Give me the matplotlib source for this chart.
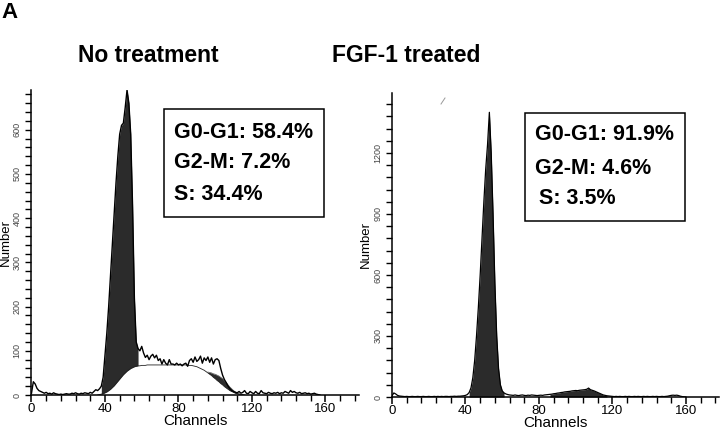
import numpy as np
import matplotlib.pyplot as plt
from matplotlib.patches import Rectangle
from matplotlib.lines import Line2D
from matplotlib.ticker import MultipleLocator

plt.rcParams['font.family'] = ['Liberation Sans', 'DejaVu Sans']

# Raw DNA histograms, one value per channel
raw_left = [4, 30, 25, 15, 10, 8, 6, 4, 6, 3, 4, 2, 5, 3, 2, 1, 2, 1, 2, 3,
            2, 2, 4, 3, 5, 3, 2, 4, 3, 5, 4, 3, 6, 4, 8, 12, 10, 14, 20, 40,
            90, 140, 200, 270, 340, 410, 480, 540, 590, 610, 615, 650, 690, 660, 590, 430, 220, 120, 105, 100,
            110, 95, 85, 90, 80, 88, 92, 84, 90, 78, 82, 70, 80, 72, 68, 80, 70, 70, 68, 72,
            68, 70, 66, 70, 72, 65, 78, 82, 74, 86, 76, 80, 88, 72, 84, 78, 86, 74, 84, 70,
            80, 82, 78, 60, 45, 35, 28, 20, 14, 10, 8, 6, 5, 8, 4, 6, 10, 4, 3, 8,
            5, 3, 8, 4, 3, 10, 5, 4, 3, 6, 4, 3, 5, 4, 6, 3, 5, 4, 8, 6,
            4, 10, 6, 8, 5, 4, 6, 3, 4, 5, 3, 4, 2, 3, 4, 2, 1, 0]

raw_right = [6, 20, 15, 8, 5, 4, 3, 2, 3, 2, 2, 3, 2, 2, 3, 2, 2, 3, 2, 2,
             3, 2, 2, 3, 2, 3, 2, 3, 2, 3, 3, 2, 3, 3, 4, 3, 4, 4, 5, 6,
             8, 12, 22, 45, 95, 180, 300, 440, 600, 780, 960, 1120, 1240, 1400, 1200, 900, 560, 300, 140, 60,
             30, 20, 15, 12, 10, 9, 8, 10, 8, 7, 9, 10, 8, 7, 9, 8, 10, 9, 8, 7,
             8, 9, 8, 10, 11, 12, 13, 14, 16, 17, 19, 20, 22, 23, 25, 26, 27, 28, 30, 31,
             32, 31, 33, 34, 35, 36, 38, 44, 36, 33, 30, 26, 22, 18, 14, 10, 8, 6, 5, 4,
             3, 2, 3, 2, 3, 2, 2, 3, 2, 3, 2, 2, 3, 2, 3, 2, 2, 3, 2, 3,
             2, 2, 3, 2, 3, 2, 2, 3, 2, 3, 4, 6, 8, 9, 8, 9, 7, 4, 2, 1, 0]

# Fitted S-phase component (left panel), channels 36..116
s_start = 36
s_left = [0, 1, 2, 3, 5, 7, 10, 13, 17, 21, 26, 31, 36, 41, 46, 50, 54, 57, 60, 62,
          64, 65, 66, 66, 67, 67, 67, 68, 68, 68, 68, 68, 68, 68, 68, 68, 68, 68, 68, 68,
          68, 68, 68, 68, 68, 68, 68, 68, 68, 67, 67, 67, 66, 65, 64, 62, 60, 58, 56, 53,
          50, 47, 44, 40, 37, 33, 30, 26, 23, 19, 16, 13, 10, 8, 6, 4, 3, 2, 1, 1,
          0]

# Fitted G2-M component (left panel), channels 96..114
g2_start = 96
g2_left = [2, 4, 6, 8, 10, 12, 13, 14, 14, 13, 12, 10, 8, 6, 4, 3, 2, 1, 0]

titles = ['No treatment', 'FGF-1 treated']
stats_left = ['G0-G1: 58.4%', 'G2-M: 7.2%', 'S: 34.4%']
stats_right = ['G0-G1: 91.9%', 'G2-M: 4.6%', 'S: 3.5%']

dark = '#2b2b2b'
W, H = 720, 434

fig = plt.figure(figsize=(7.2, 4.34), dpi=100)


def px_axes(x0, y_top, y_bot, w):
    return fig.add_axes([x0 / W, (H - y_bot) / H, w / W, (y_bot - y_top) / H])


def style_axes(ax, ymax, ymajor, yminor):
    ax.set_xlim(0, 178)
    ax.set_ylim(0, ymax)
    for s in ['top', 'right']:
        ax.spines[s].set_visible(False)
    ax.spines['left'].set_linewidth(1.1)
    ax.spines['bottom'].set_linewidth(1.1)
    ax.xaxis.set_major_locator(MultipleLocator(40))
    ax.xaxis.set_minor_locator(MultipleLocator(8))
    ax.yaxis.set_major_locator(MultipleLocator(ymajor))
    ax.yaxis.set_minor_locator(MultipleLocator(yminor))
    ax.tick_params(axis='x', which='major', length=5, width=1.1, labelsize=9.5, pad=1)
    ax.tick_params(axis='x', which='minor', length=4, width=1.0)
    ax.tick_params(axis='y', which='major', length=4, width=1.0, labelsize=6.5,
                   pad=3, labelcolor='#444444')
    ax.tick_params(axis='y', which='minor', length=4, width=1.0)
    for lab in ax.get_yticklabels():
        lab.set_rotation(90)
        lab.set_va('center')
    ax.set_xlabel('Channels', fontsize=11, labelpad=-1)
    ax.set_ylabel('Number', fontsize=9.5, labelpad=1)


# ---- left panel: no treatment
ax1 = px_axes(31.5, 90, 395, 327)
ch = np.arange(len(raw_left))
s_ch = np.arange(s_start, s_start + len(s_left))
s_arr = np.array(s_left)
raw_l = np.array(raw_left)

# G0-G1 peak fill on top of S-phase
g1_idx = np.arange(38, 59)
ax1.fill_between(g1_idx, s_arr[g1_idx - s_start], raw_l[g1_idx], color=dark, lw=0)
# G2-M fill
g2_ch = np.arange(g2_start, g2_start + len(g2_left))
s_g2 = s_arr[g2_ch - s_start]
ax1.fill_between(g2_ch, s_g2, s_g2 + np.array(g2_left), color=dark, lw=0)
ax1.plot(s_ch, s_arr, color='#222222', lw=0.6)
ax1.plot(g2_ch, s_g2 + np.array(g2_left), color='#555555', lw=0.5)
ax1.plot(ch, raw_l, color='black', lw=1.0)
style_axes(ax1, 690, 100, 20)

# ---- right panel: FGF-1 treated
ax2 = px_axes(392, 93, 397, 327)
ch2 = np.arange(len(raw_right))
raw_r = np.array(raw_right)
ax2.fill_between(ch2[42:62], 0, raw_r[42:62], color=dark, lw=0)
ax2.fill_between(ch2[86:118], 0, raw_r[86:118], color=dark, lw=0)
ax2.plot(ch2, raw_r, color='black', lw=0.9)
style_axes(ax2, 1495, 300, 60)

# titles and panel letter
tfont = dict(fontsize=16.5, fontweight='bold')
fig.text(148 / W, 1 - 56 / H, titles[0], ha='center', va='center', **tfont)
fig.text(406 / W, 1 - 56 / H, titles[1], ha='center', va='center', **tfont)
fig.text(1 / W, 1 - 12 / H, 'A', ha='left', va='center', fontsize=16, fontweight='bold')

# stats boxes
boxes = [(164, 109, 160, 108, 174, [132, 163, 195], stats_left, [0, 0, 0]),
         (525, 113, 160, 108, 535, [135, 168, 198], stats_right, [0, 0, 4])]
for bx, by, bw, bh, tx, tys, lines, dx in boxes:
    fig.patches.append(Rectangle((bx / W, 1 - (by + bh) / H), bw / W, bh / H,
                                 transform=fig.transFigure, fill=False,
                                 ec='black', lw=1.1))
    for t, ty, d in zip(lines, tys, dx):
        fig.text((tx + d) / W, 1 - ty / H, t, ha='left', va='center',
                 fontsize=15.5, fontweight='bold')

# small scan artefact in the right panel
fig.add_artist(Line2D([441 / W, 445 / W], [1 - 104 / H, 1 - 98 / H],
                      transform=fig.transFigure, color='#999999', lw=0.7))

fig.savefig('out.png', dpi=100)
